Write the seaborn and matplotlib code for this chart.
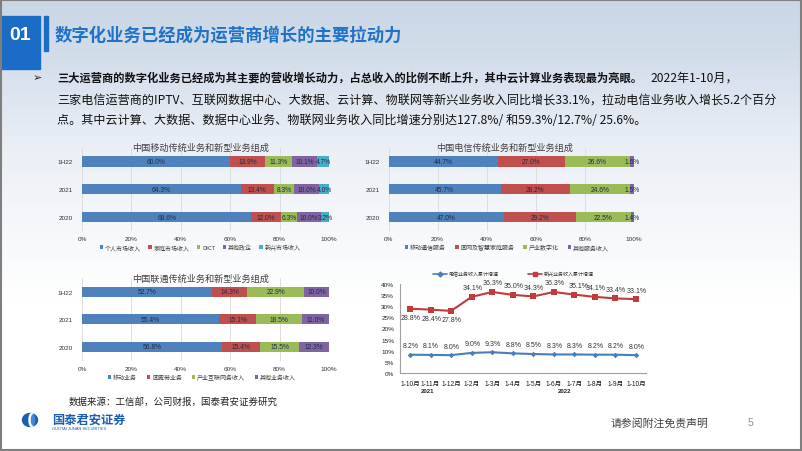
import numpy as np
import pandas as pd
import matplotlib.pyplot as plt
import seaborn as sns
from matplotlib.patches import Rectangle, Patch, Ellipse
from matplotlib.lines import Line2D

# ---- 数据 ----
periods = ['1H22', '2021', '2020']
pct_ticks = [0, 20, 40, 60, 80, 100]

cm_segments = ['个人市场收入', '家庭市场收入', 'DICT', '其他政企', '新兴市场收入']
cm_1h22 = [60.0, 13.9, 11.3, 10.1, 4.7]
cm_2021 = [64.3, 13.4, 8.3, 10.0, 4.0]
cm_2020 = [68.6, 12.0, 6.3, 10.0, 3.2]

ct_segments = ['移动通信服务', '固网及智慧家庭服务', '产业数字化', '其他服务收入']
ct_1h22 = [44.7, 27.0, 26.6, 1.6]
ct_2021 = [45.7, 28.2, 24.6, 1.5]
ct_2020 = [47.0, 29.2, 22.5, 1.4]

cu_segments = ['移动业务', '固宽带业务', '产业互联网务收入', '其他业务收入']
cu_1h22 = [52.7, 14.3, 22.9, 10.0]
cu_2021 = [55.4, 15.1, 18.5, 11.0]
cu_2020 = [56.8, 15.4, 15.5, 12.3]

months = ['1-10月', '1-11月', '1-12月', '1-2月', '1-3月', '1-4月',
          '1-5月', '1-6月', '1-7月', '1-8月', '1-9月', '1-10月']
telecom_growth = [8.2, 8.1, 8.0, 9.0, 9.3, 8.8, 8.5, 8.3, 8.3, 8.2, 8.2, 8.0]
emerging_growth = [28.8, 28.4, 27.8, 34.1, 36.3, 35.0, 34.3, 36.3, 35.1, 34.1, 33.4, 33.1]
growth_ticks = [0, 5, 10, 15, 20, 25, 30, 35, 40]

seg_colors = ['#4f81bd', '#c0504d', '#9bbb59', '#8064a2', '#4bacc6']
CJK = ['Noto Sans CJK SC', 'DejaVu Sans']
NUM = ['Liberation Sans', 'Noto Sans CJK SC', 'DejaVu Sans']

sns.set_style('white')
plt.rcParams['font.family'] = NUM

W, H = 802, 452
fig = plt.figure(figsize=(W / 100, H / 100), dpi=100)

# 背景层, 坐标即像素
bg = fig.add_axes([0, 0, 1, 1], zorder=0)
bg.set_xlim(0, W)
bg.set_ylim(H, 0)
bg.axis('off')
ys = np.arange(H)
stop_y = [0, 60, 150, 300]
stop_rgb = [(0.79, 0.84, 0.90), (0.83, 0.87, 0.92), (0.92, 0.94, 0.965), (1.0, 1.0, 1.0)]
grad = np.zeros((H, 1, 3))
for ch in range(3):
    grad[:, 0, ch] = np.interp(ys, stop_y, [c[ch] for c in stop_rgb])
bg.imshow(grad, extent=[0, W, H, 0], aspect='auto', zorder=0)
bg.add_patch(Rectangle((0.5, 0.5), W - 1.5, H - 1.5, fill=False, ec='#7f7f7f', lw=1.5, zorder=5))

# 标题栏
bg.add_patch(Rectangle((0, 17), 40, 53, color='#1a6cc6', zorder=2))
bg.add_patch(Rectangle((44, 17), 4, 35, color='#1a6cc6', zorder=2))
bg.text(20, 36, '01', color='white', fontsize=14, fontweight='bold', ha='center', va='center',
        family=NUM, zorder=3)
bg.text(55, 36, '数字化业务已经成为运营商增长的主要拉动力', color='#1f72c8', fontsize=12.5,
        fontweight='bold', ha='left', va='center', family=CJK, zorder=3)

# 正文
renderer = fig.canvas.get_renderer()
bg.text(33, 78, '➢', fontsize=8, ha='left', va='center', family=['DejaVu Sans'], color='#222222')
t1 = bg.text(57, 78, '三大运营商的数字化业务已经成为其主要的营收增长动力，占总收入的比例不断上升，其中云计算业务表现最为亮眼。',
             fontsize=8.1, fontweight='bold', ha='left', va='center', family=CJK, color='#111111')
bb = t1.get_window_extent(renderer)
x_end = bg.transData.inverted().transform((bb.x1, bb.y0))[0]
bg.text(x_end + 8, 78, '2022年1-10月，', fontsize=8.7, ha='left', va='center', family=CJK, color='#111111')
bg.text(57, 100, '三家电信运营商的IPTV、互联网数据中心、大数据、云计算、物联网等新兴业务收入同比增长33.1%，拉动电信业务收入增长5.2个百分',
        fontsize=8.7, ha='left', va='center', family=CJK, color='#111111')
bg.text(57, 120, '点。其中云计算、大数据、数据中心业务、物联网业务收入同比增速分别达127.8%/ 和59.3%/12.7%/ 25.6%。',
        fontsize=8.7, ha='left', va='center', family=CJK, color='#111111')


def px_axes(x0, y0, x1, y1):
    return fig.add_axes([x0 / W, 1 - y1 / H, (x1 - x0) / W, (y1 - y0) / H], zorder=2)


def stacked_bar(ax, segments, rows, title, title_xy, legend_xy, colspace):
    df = pd.DataFrame(rows, index=periods, columns=segments)
    cum = df.cumsum(axis=1)
    long = cum.reset_index().melt(id_vars='index', var_name='seg', value_name='cum')
    colors = seg_colors[:len(segments)]
    # 累计值从大到小叠画, 形成堆积条形
    for seg, col in reversed(list(zip(segments, colors))):
        sub = long[long['seg'] == seg]
        sns.barplot(data=sub, x='cum', y='index', order=periods, color=col, saturation=1,
                    width=0.37, orient='h', errorbar=None, linewidth=0, ax=ax, zorder=2)
    for i, p in enumerate(periods):
        for seg in segments:
            v = df.loc[p, seg]
            c = cum.loc[p, seg]
            ax.text(c - v / 2, i, f'{v:.1f}%', ha='center', va='center', fontsize=4.8,
                    color='#1d2b4a', zorder=4)
    ax.set_facecolor('none')
    ax.set_xlim(0, 100)
    ax.set_xticks(pct_ticks)
    ax.set_xticklabels([f'{t}%' for t in pct_ticks])
    ax.xaxis.grid(True, color='#d9d9d9', lw=0.6)
    ax.set_axisbelow(True)
    ax.set_xlabel('')
    ax.set_ylabel('')
    for s in ax.spines.values():
        s.set_visible(False)
    ax.tick_params(axis='x', labelsize=4.6, length=0, pad=4, labelcolor='#333333')
    ax.tick_params(axis='y', labelsize=4.6, length=0, pad=6.5, labelcolor='#333333')
    bg.text(title_xy[0], title_xy[1], title, fontsize=6.6, ha='center', va='center',
            family=CJK, color='#404040', zorder=3)
    handles = [Patch(facecolor=c, edgecolor='none') for c in colors]
    fig.legend(handles, segments, loc='center', bbox_to_anchor=legend_xy,
               bbox_transform=bg.transData, ncol=len(segments), frameon=False,
               prop={'family': CJK, 'size': 4.3}, handlelength=0.6, handleheight=0.6,
               handletextpad=0.3, columnspacing=colspace, labelcolor='#404040')


ax1 = px_axes(82, 148.6, 329, 231.9)
stacked_bar(ax1, cm_segments, [cm_1h22, cm_2021, cm_2020], '中国移动传统业务和新型业务组成',
            (201, 148), (200, 248), 1.2)

ax2 = px_axes(388.5, 148.6, 634, 231.9)
stacked_bar(ax2, ct_segments, [ct_1h22, ct_2021, ct_2020], '中国电信传统业务和新型业务组成',
            (505, 148), (507, 248), 1.5)

ax3 = px_axes(82, 278.9, 329, 361.8)
stacked_bar(ax3, cu_segments, [cu_1h22, cu_2021, cu_2020], '中国联通传统业务和新型业务组成',
            (201, 279), (202, 378), 1.6)

# 折线图
ax4 = px_axes(399.7, 284.7, 646.3, 374)
idx = np.arange(len(months))
blue_line = '#4a7ebb'
red_line = '#c23b3b'
sns.lineplot(x=idx, y=telecom_growth, color=blue_line, marker='D', markersize=2.8,
             markeredgewidth=0, linewidth=1.5, ax=ax4)
sns.lineplot(x=idx, y=emerging_growth, color=red_line, marker='s', markersize=4,
             markeredgewidth=0, linewidth=1.5, ax=ax4)
for i, v in enumerate(telecom_growth):
    ax4.annotate(f'{v:.1f}%', (i, v), xytext=(0.5, 6.5), textcoords='offset points',
                 ha='center', va='center', fontsize=5, color='#333333')
for i, v in enumerate(emerging_growth):
    dy = -6.5 if i < 3 else 6.5
    dx = 3 if i == 8 else 0.5
    ax4.annotate(f'{v:.1f}%', (i, v), xytext=(dx, dy), textcoords='offset points',
                 ha='center', va='center', fontsize=5, color='#333333')
ax4.set_facecolor('none')
ax4.set_xlim(-0.5, len(months) - 0.5)
ax4.set_ylim(0, 40)
ax4.set_yticks(growth_ticks)
ax4.set_yticklabels([f'{t}%' for t in growth_ticks])
ax4.set_xticks(idx)
ax4.set_xticklabels(months)
ax4.set_xticks(np.arange(-0.5, len(months)), minor=True)
for s in ['top', 'right']:
    ax4.spines[s].set_visible(False)
for s in ['left', 'bottom']:
    ax4.spines[s].set_color('#a0a0a0')
    ax4.spines[s].set_linewidth(0.8)
ax4.tick_params(axis='x', which='major', length=0, pad=5, labelsize=4.8, labelcolor='#222222')
ax4.tick_params(axis='x', which='minor', length=2, direction='out', color='#a0a0a0')
ax4.tick_params(axis='y', length=2, direction='out', color='#a0a0a0', pad=2, labelsize=4.6,
                labelcolor='#222222')
ax4.set_xlabel('')
ax4.set_ylabel('')
leg_handles = [Line2D([], [], color=blue_line, marker='D', markersize=2.5, lw=1.2),
               Line2D([], [], color=red_line, marker='s', markersize=3.2, lw=1.2)]
fig.legend(leg_handles, ['电信业务收入累计增速', '新兴业务收入累计增速'], loc='center',
           bbox_to_anchor=(513, 275), bbox_transform=bg.transData, ncol=2, frameon=False,
           prop={'family': CJK, 'size': 3.6}, handlelength=2.8, handletextpad=0.3,
           columnspacing=6, labelcolor='#333333')
if ax4.get_legend() is not None:
    ax4.get_legend().remove()
bg.text(428, 392, '2021', fontsize=4.3, fontweight='bold', ha='center', va='center', color='#222222')
bg.text(565, 392, '2022', fontsize=4.3, fontweight='bold', ha='center', va='center', color='#222222')

# 页脚
bg.text(69, 402, '数据来源：工信部，公司财报，国泰君安证券研究', fontsize=6.8, ha='left', va='center',
        family=CJK, color='#222222')
bg.add_patch(Ellipse((30, 421), 15, 13, color='#1b5fae', zorder=3))
bg.add_patch(Ellipse((31.5, 421), 5, 13, color='white', zorder=4))
bg.add_patch(Ellipse((33, 421), 3, 10, color='#3b8ad8', zorder=5))
bg.text(52, 420, '国泰君安证券', fontsize=8.8, fontweight='bold', ha='left', va='center',
        family=CJK, color='#1b5fae')
bg.text(52, 429, 'GUOTAI JUNAN SECURITIES', fontsize=2.9, ha='left', va='center', color='#1b5fae')
bg.text(611, 423, '请参阅附注免责声明', fontsize=7.8, ha='left', va='center', family=CJK, color='#404040')
bg.text(750, 423, '5', fontsize=7.5, ha='center', va='center', color='#8c8c8c')

fig.savefig('out.png', dpi=100)
